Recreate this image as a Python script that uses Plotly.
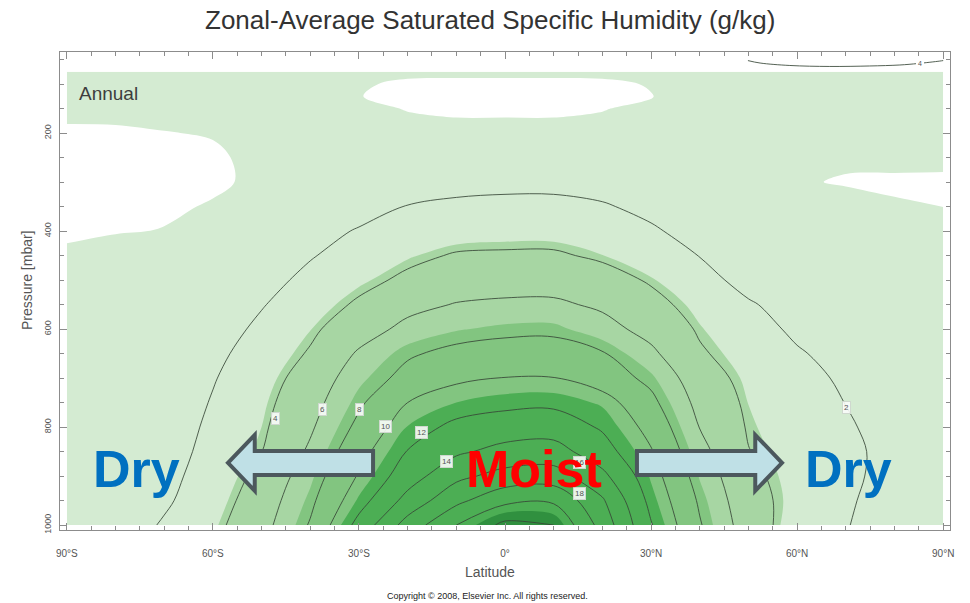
import plotly.graph_objects as go

# Zonal-mean saturated specific humidity (g/kg) on a latitude / pressure grid
LAT = [-90, -80, -70, -60, -50, -40, -30, -20, -10, 0, 10, 20, 30, 40, 50, 60, 70, 80, 90]
PRESSURE = [75, 100, 125, 150, 200, 250, 300, 350, 400, 450, 500, 550, 600,
            650, 700, 750, 800, 850, 900, 950, 1000]

Q_SAT = [
    [0.15, 0.15, 0.15, 0.15, 0.15, 0.12, 0.09, 0.09, 0.09, 0.09, 0.09, 0.09, 0.09, 0.12, 0.15, 0.15, 0.15, 0.15, 0.15],
    [0.15, 0.15, 0.15, 0.15, 0.15, 0.12, 0.07, 0.02, 0.01, 0.01, 0.01, 0.02, 0.06, 0.12, 0.15, 0.15, 0.15, 0.15, 0.15],
    [0.15, 0.15, 0.15, 0.15, 0.15, 0.10, 0.053, 0.02, 0.01, 0.01, 0.01, 0.02, 0.045, 0.095, 0.15, 0.15, 0.15, 0.15, 0.15],
    [0.10, 0.10, 0.10, 0.15, 0.15, 0.15, 0.10, 0.04, 0.01, 0.01, 0.01, 0.04, 0.10, 0.15, 0.15, 0.15, 0.15, 0.15, 0.15],
    [0.02, 0.025, 0.045, 0.06, 0.12, 0.12, 0.12, 0.12, 0.12, 0.12, 0.12, 0.12, 0.12, 0.12, 0.12, 0.12, 0.12, 0.12, 0.12],
    [0.01, 0.01, 0.012, 0.025, 0.094, 0.3, 0.6, 0.9, 1.1, 1.2, 1.2, 1.0, 0.7, 0.4, 0.2, 0.1, 0.08, 0.1, 0.1],
    [0.01, 0.01, 0.015, 0.03, 0.075, 0.45, 1.0, 1.35, 1.5, 1.6, 1.6, 1.4, 1.1, 0.6, 0.3, 0.068, 0.035, 0.02, 0.015],
    [0.02, 0.02, 0.03, 0.06, 0.35, 0.9, 1.5, 2.05, 2.3, 2.4, 2.4, 2.15, 1.6, 1.0, 0.5, 0.25, 0.12, 0.07, 0.048],
    [0.02, 0.04, 0.055, 0.3, 0.8, 1.54, 2.1, 2.75, 3.15, 3.3, 3.3, 2.95, 2.2, 1.43, 0.8, 0.45, 0.3, 0.22, 0.2],
    [0.08, 0.12, 0.25, 0.5, 1.0, 1.88, 2.73, 3.58, 4.15, 4.22, 4.22, 3.73, 2.85, 1.96, 1.1, 0.7, 0.45, 0.3, 0.25],
    [0.15, 0.2, 0.35, 0.6, 1.4, 2.44, 3.48, 4.35, 4.95, 5.2, 5.25, 4.7, 3.82, 2.62, 1.42, 0.9, 0.6, 0.4, 0.3],
    [0.2, 0.25, 0.4, 0.68, 1.88, 3.08, 4.26, 5.45, 6.1, 6.3, 6.3, 5.71, 4.53, 3.35, 2.18, 1.3, 0.85, 0.5, 0.35],
    [0.22, 0.3, 0.45, 1.12, 2.39, 3.66, 5.14, 6.5, 7.2, 7.55, 7.6, 6.63, 5.39, 3.79, 2.73, 1.67, 1.1, 0.65, 0.4],
    [0.25, 0.35, 0.5, 1.55, 2.83, 4.17, 6.23, 7.77, 8.5, 8.8, 8.85, 8.15, 6.37, 4.22, 3.13, 2.17, 1.4, 0.8, 0.5],
    [0.3, 0.4, 0.59, 1.88, 3.17, 4.82, 7.0, 8.57, 9.67, 10.05, 10.05, 9.03, 7.54, 4.86, 3.46, 2.59, 1.72, 1.0, 0.7],
    [0.4, 0.6, 0.8, 2.13, 3.47, 5.3, 7.7, 10.0, 11.0, 11.5, 11.6, 10.82, 8.47, 5.43, 3.68, 2.82, 1.97, 1.2, 0.85],
    [0.45, 0.7, 1.02, 2.36, 3.7, 5.75, 8.45, 11.06, 12.5, 13.0, 13.1, 11.78, 9.38, 5.95, 3.85, 3.02, 2.2, 1.37, 0.95],
    [0.5, 0.8, 1.19, 2.58, 3.97, 6.3, 9.32, 12.08, 13.68, 14.6, 14.8, 12.82, 10.14, 6.6, 4.05, 3.19, 2.36, 1.52, 1.0],
    [0.6, 0.9, 1.43, 2.86, 4.47, 7.03, 10.17, 13.06, 15.5, 16.7, 16.9, 14.5, 10.83, 7.2, 4.41, 3.26, 2.35, 1.45, 1.0],
    [0.6, 1.0, 1.71, 3.14, 4.94, 7.59, 11.2, 14.67, 17.5, 19.5, 19.7, 16.25, 11.45, 7.75, 4.73, 3.29, 2.27, 1.1, 0.8],
    [0.6, 0.9, 2.2, 3.5, 5.33, 8.16, 12.67, 16.83, 20.0, 22.5, 22.0, 17.22, 12.13, 8.15, 5.03, 3.0, 2.1, 1.0, 0.7],
]

# shaded bands: each threshold shades everything above it
FILL_LEVELS = [0.05, 3.7, 7.3, 11.0, 21.0]
FILL_COLORS = ["#d4ebd2", "#a7d6a3", "#82c580", "#4cae54", "#30903f"]

# isolines every 2 g/kg
LINE_START, LINE_END, LINE_STEP = 2, 22, 2

# in-line labels for the isolines
LABEL_LEVELS = [4, 6, 8, 10, 12, 14, 16, 18, 2]
LABEL_LAT = [-47.2, -37.4, -29.8, -24.6, -17.2, -12.1, 15.4, 15.2, 70.2]
LABEL_P = [782, 765, 765, 798, 810, 871, 873, 935, 759]

# isoline crossing the upper edge of the section
TOP_LINE_LEVEL = 4
TOP_LINE_LAT = [49.9, 52.4, 58.5, 66.7, 74.9, 81.1, 84.8, 89.3, 90.0]
TOP_LINE_P = [52, 57, 62, 64, 63, 61, 58, 53, 52]
TOP_LABEL_LAT, TOP_LABEL_P = 85.2, 57

X_TICKS = [-90, -60, -30, 0, 30, 60, 90]
X_TICK_TEXT = ["90°S", "60°S", "30°S", "0°", "30°N", "60°N", "90°N"]
Y_TICKS = [200, 400, 600, 800, 1000]

FONT = "Liberation Sans, Arial, sans-serif"
AXIS_GREY = "#8c8c8c"
LINE_COLOR = "rgba(55,70,55,0.85)"

fig = go.Figure()

# Plotly shades the side of a constraint that is excluded, so "<" shades z above the level
for level, color in zip(FILL_LEVELS, FILL_COLORS):
    fig.add_trace(go.Contour(
        x=LAT, y=PRESSURE, z=Q_SAT,
        contours=dict(type="constraint", operation="<", value=level),
        fillcolor=color,
        line=dict(width=0, smoothing=1.0),
        showscale=False, hoverinfo="skip", showlegend=False,
    ))

fig.add_trace(go.Contour(
    x=LAT, y=PRESSURE, z=Q_SAT,
    contours=dict(coloring="none", start=LINE_START, end=LINE_END, size=LINE_STEP,
                  showlabels=False),
    line=dict(color=LINE_COLOR, width=1, smoothing=1.0),
    showscale=False, hoverinfo="skip", showlegend=False,
))

fig.add_trace(go.Scatter(
    x=TOP_LINE_LAT, y=TOP_LINE_P, mode="lines",
    line=dict(color=LINE_COLOR, width=1, shape="spline"),
    hoverinfo="skip", showlegend=False, cliponaxis=True,
))

annotations = []
label_style = dict(showarrow=False, font=dict(family=FONT, size=8, color="#555"),
                   bgcolor="rgba(250,252,250,0.9)", bordercolor="#cfd8cf",
                   borderwidth=1, borderpad=1, xref="x", yref="y",
                   xanchor="center", yanchor="middle")
for lvl, la, pr in zip(LABEL_LEVELS, LABEL_LAT, LABEL_P):
    annotations.append(dict(x=la, y=pr, text=str(lvl), **label_style))
annotations.append(dict(x=TOP_LABEL_LAT, y=TOP_LABEL_P, text=str(TOP_LINE_LEVEL),
                        **{**label_style, "bgcolor": "white", "bordercolor": "white",
                           "font": dict(family=FONT, size=7, color="#555")}))

# block arrows pointing poleward, in latitude / pressure units
ARROW_TIP, ARROW_NECK, ARROW_TAIL = 56.9, 51.4, 27.1
ARROW_HEAD_TOP, ARROW_SHAFT_TOP, ARROW_MID = 816, 849, 873
ARROW_SHAFT_BOT, ARROW_HEAD_BOT = 898, 930


def arrow_path(side):
    pts = [(ARROW_TIP, ARROW_MID), (ARROW_NECK, ARROW_HEAD_TOP), (ARROW_NECK, ARROW_SHAFT_TOP),
           (ARROW_TAIL, ARROW_SHAFT_TOP), (ARROW_TAIL, ARROW_SHAFT_BOT),
           (ARROW_NECK, ARROW_SHAFT_BOT), (ARROW_NECK, ARROW_HEAD_BOT)]
    segs = [f"{'M' if i == 0 else 'L'} {side * a} {b}" for i, (a, b) in enumerate(pts)]
    return " ".join(segs) + " Z"


shapes = [dict(type="path", path=arrow_path(s), xref="x", yref="y",
               fillcolor="#bfe0e6", line=dict(color="#4c585d", width=4), layer="above")
          for s in (-1, 1)]


def paper_text(text, x, y, size, color, **kw):
    return dict(text=text, x=x, y=y, xref="paper", yref="paper", showarrow=False,
                xanchor=kw.pop("xanchor", "center"), yanchor="middle",
                font=dict(family=FONT, size=size, color=color), **kw)


annotations += [
    paper_text("Zonal-Average Saturated Specific Humidity (g/kg)", 0.483, 1.067, 26, "#333"),
    paper_text("Annual", 0.019, 0.914, 19, "#3d3d3d", xanchor="left"),
    paper_text("Latitude", 0.4835, -0.088, 14, "#555"),
    paper_text("Pressure [mbar]", -0.037, 0.523, 14, "#555", textangle=-90),
    paper_text("Copyright © 2008, Elsevier Inc. All rights reserved.", 0.48, -0.138, 9, "#222"),
    paper_text("<b>Dry</b>", 0.0854, 0.1276, 52, "#0070c0"),
    paper_text("<b>Moist</b>", 0.533, 0.1276, 52, "#ff0000"),
    paper_text("<b>Dry</b>", 0.8854, 0.1276, 52, "#0070c0"),
]

fig.update_layout(
    width=970, height=603, autosize=False,
    margin=dict(l=60, r=20, t=52, b=73),
    paper_bgcolor="white", plot_bgcolor="white",
    shapes=shapes, annotations=annotations,
    xaxis=dict(range=[-91.4, 91.4], tickmode="array", tickvals=X_TICKS, ticktext=X_TICK_TEXT,
               ticks="inside", ticklen=7, tickcolor=AXIS_GREY, showline=True,
               linecolor=AXIS_GREY, linewidth=1, mirror="ticks", showgrid=False,
               zeroline=False, ticklabelstandoff=14,
               tickfont=dict(family=FONT, size=10, color="#555"),
               minor=dict(tickmode="linear", tick0=-90, dtick=5, ticks="inside",
                          ticklen=4, tickcolor=AXIS_GREY)),
    yaxis=dict(range=[1010, 34.5], tickmode="array", tickvals=Y_TICKS,
               ticks="inside", ticklen=7, tickcolor=AXIS_GREY, showline=True,
               linecolor=AXIS_GREY, linewidth=1, mirror="ticks", showgrid=False,
               zeroline=False, tickangle=-90, ticklabelstandoff=4,
               tickfont=dict(family=FONT, size=9, color="#555"),
               minor=dict(tickmode="linear", tick0=0, dtick=50, ticks="inside",
                          ticklen=4, tickcolor=AXIS_GREY)),
)

fig.write_html("out.html")
